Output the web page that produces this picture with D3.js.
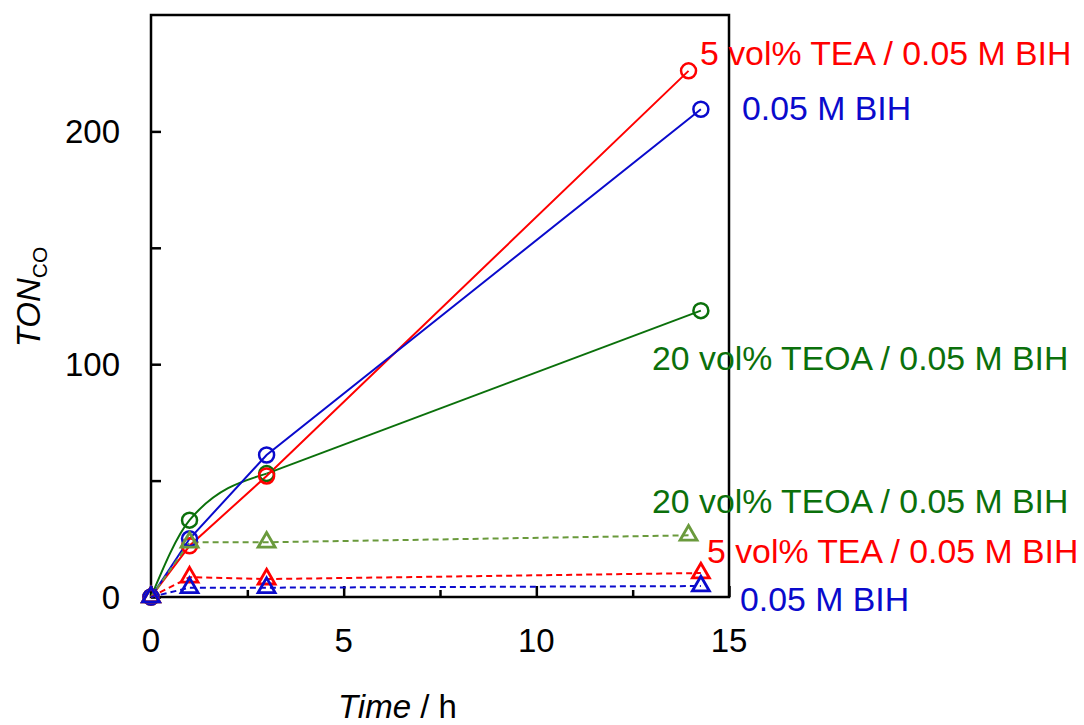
<!DOCTYPE html>
<html>
<head>
<meta charset="utf-8">
<script src="https://cdn.jsdelivr.net/npm/d3@7"></script>
<style>
  body { margin: 0; background: #fff; }
  svg { display: block; font-family: "Liberation Sans", Arial, sans-serif; }
</style>
</head>
<body>
<svg id="chart" width="1084" height="725"></svg>
<script>
// --- data ---
// circles, solid lines
const timeTEA = [0, 1, 3, 13.95];
const tonTEA = [0, 22, 52, 226];
const timeBIH = [0, 1, 3, 14.27];
const tonBIH = [0, 25, 61, 209.5];
const timeTEOA = [0, 1, 3, 14.27];
const tonTEOA = [0, 33, 53, 123];
// triangles, dashed lines
const timeTEOA2 = [0, 1, 3, 13.95];
const tonTEOA2 = [0, 23.5, 23.5, 26.5];
const timeTEA2 = [0, 1, 3, 14.27];
const tonTEA2 = [0, 8.5, 7.7, 10.3];
const timeBIH2 = [0, 1, 3, 14.27];
const tonBIH2 = [0, 4, 4, 4.7];

const xMajor = [0, 5, 10, 15];
const xMinor = [2.5, 7.5, 12.5];
const yMajor = [0, 100, 200];
const yMinor = [50, 150];

const labelTEA = '5 vol% TEA / 0.05 M BIH';
const labelBIH = '0.05 M BIH';
const labelTEOA = '20 vol% TEOA / 0.05 M BIH';

const RED = '#ff0000', BLUE = '#0a0acc', GREEN = '#0b700b', OLIVE = '#6a9a3c';

const zip = (xs, ys) => xs.map((t, i) => [t, ys[i]]);

// smooth: number of leading points drawn with a smoothed curve
const series = [
  { pts: zip(timeTEOA, tonTEOA), color: GREEN, mark: 'circle', dash: null, smooth: 3 },
  { pts: zip(timeTEA, tonTEA), color: RED, mark: 'circle', dash: null, smooth: 0 },
  { pts: zip(timeBIH, tonBIH), color: BLUE, mark: 'circle', dash: null, smooth: 0 },
  { pts: zip(timeTEOA2, tonTEOA2), color: OLIVE, mark: 'tri', dash: '6,4', smooth: 0 },
  { pts: zip(timeTEA2, tonTEA2), color: RED, mark: 'tri', dash: '6,4', smooth: 0 },
  { pts: zip(timeBIH2, tonBIH2), color: BLUE, mark: 'tri', dash: '6,4', smooth: 0 }
];

const svg = d3.select('#chart');
const pLeft = 151, pRight = 729, pTop = 15, pBottom = 597;

const x = d3.scaleLinear().domain([0, 15]).range([pLeft, pRight]);
const y = d3.scaleLinear().domain([0, 250]).range([pBottom, pTop]);

// ticks (inside)
svg.append('g').attr('transform', `translate(0,${pBottom})`)
  .call(d3.axisBottom(x).tickValues(xMajor).tickSize(-11).tickFormat(''))
  .call(g => g.select('.domain').remove());
svg.append('g').attr('transform', `translate(0,${pBottom})`)
  .call(d3.axisBottom(x).tickValues(xMinor).tickSize(-7).tickFormat(''))
  .call(g => g.select('.domain').remove());
svg.append('g').attr('transform', `translate(${pLeft},0)`)
  .call(d3.axisLeft(y).tickValues(yMajor.concat(yMinor)).tickSize(-10).tickFormat(''))
  .call(g => g.select('.domain').remove());
svg.selectAll('.tick line').attr('stroke', '#000').attr('stroke-width', 2.5);

// frame
svg.append('rect')
  .attr('x', pLeft).attr('y', pTop)
  .attr('width', pRight - pLeft).attr('height', pBottom - pTop)
  .attr('fill', 'none').attr('stroke', '#000').attr('stroke-width', 2.5);

// tick labels
svg.append('g').selectAll('text').data(xMajor).join('text')
  .attr('x', d => x(d)).attr('y', 652)
  .attr('text-anchor', 'middle').attr('font-size', 33)
  .text(d => d);
svg.append('g').selectAll('text').data(yMajor).join('text')
  .attr('x', 120).attr('y', d => y(d) + 12)
  .attr('text-anchor', 'end').attr('font-size', 33)
  .text(d => d);

// axis titles
const xt = svg.append('text').attr('x', 338).attr('y', 718).attr('font-size', 33);
xt.append('tspan').attr('font-style', 'italic').text('Time');
xt.append('tspan').text(' / h');

const yt = svg.append('text')
  .attr('transform', 'translate(40,297) rotate(-90)')
  .attr('text-anchor', 'middle').attr('font-size', 33);
yt.append('tspan').attr('font-style', 'italic').text('TON');
yt.append('tspan').attr('font-size', 21).attr('dy', 7).text('CO');

// lines
const lineStraight = d3.line().x(d => x(d[0])).y(d => y(d[1]));
const lineSmooth = d3.line().x(d => x(d[0])).y(d => y(d[1])).curve(d3.curveMonotoneX);

series.forEach(s => {
  const parts = s.smooth > 0
    ? [[lineSmooth, s.pts.slice(0, s.smooth)], [lineStraight, s.pts.slice(s.smooth - 1)]]
    : [[lineStraight, s.pts]];
  parts.forEach(([gen, pts]) => {
    svg.append('path')
      .datum(pts)
      .attr('d', gen)
      .attr('fill', 'none')
      .attr('stroke', s.color)
      .attr('stroke-width', 2)
      .attr('stroke-dasharray', s.dash);
  });
});

// markers
const tri = d3.symbol().type(d3.symbolTriangle).size(125);
series.filter(s => s.mark === 'circle').forEach(s => {
  svg.append('g').selectAll('circle').data(s.pts).join('circle')
    .attr('cx', d => x(d[0])).attr('cy', d => y(d[1])).attr('r', 7.5)
    .attr('fill', 'none').attr('stroke', s.color).attr('stroke-width', 2.5);
});
series.filter(s => s.mark === 'tri').forEach(s => {
  svg.append('g').selectAll('path').data(s.pts).join('path')
    .attr('transform', d => `translate(${x(d[0])},${y(d[1])})`)
    .attr('d', tri())
    .attr('fill', 'none').attr('stroke', s.color).attr('stroke-width', 2.8);
});

// series labels
const labels = [
  { text: labelTEA, color: RED, x: 700, y: 65 },
  { text: labelBIH, color: BLUE, x: 742, y: 120 },
  { text: labelTEOA, color: GREEN, x: 652, y: 370 },
  { text: labelTEOA, color: GREEN, x: 652, y: 513 },
  { text: labelTEA, color: RED, x: 707, y: 563 },
  { text: labelBIH, color: BLUE, x: 740, y: 611 }
];
svg.append('g').selectAll('text').data(labels).join('text')
  .attr('x', d => d.x).attr('y', d => d.y)
  .attr('font-size', 33.8).attr('fill', d => d.color)
  .text(d => d.text);
</script>
</body>
</html>
